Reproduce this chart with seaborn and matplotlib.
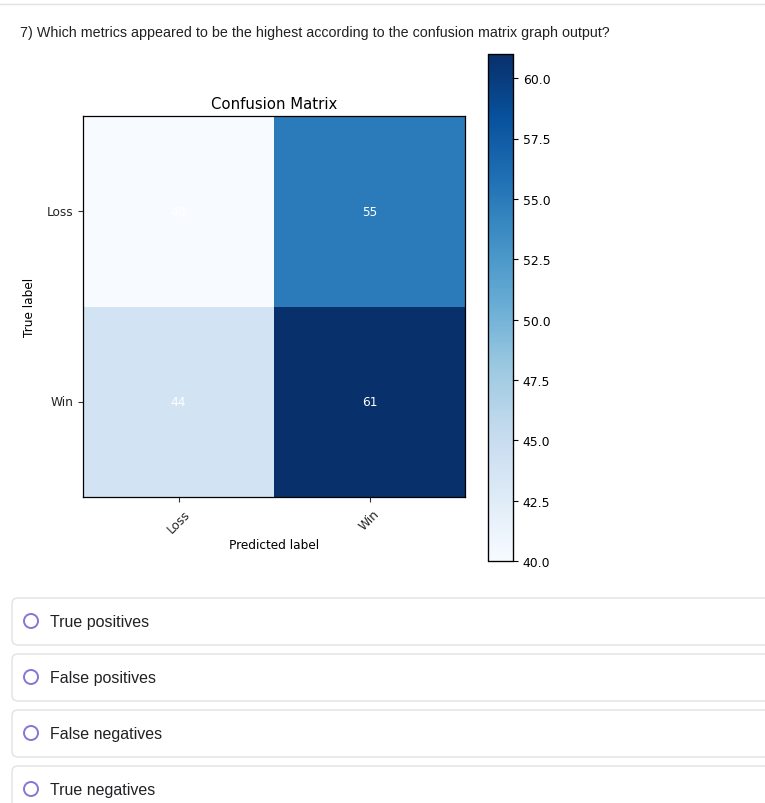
import matplotlib.pyplot as plt
import seaborn as sns
import numpy as np
from matplotlib.patches import FancyBboxPatch, Circle

# confusion matrix values (rows: true, cols: predicted)
labels = ['Loss', 'Win']
cm = np.array([[40, 55],
               [44, 61]])
vmin, vmax = 40, 61

question = '7) Which metrics appeared to be the highest according to the confusion matrix graph output?'
options = ['True positives', 'False positives', 'False negatives', 'True negatives']

W, H = 765, 804
fig = plt.figure(figsize=(W / 100, H / 100), dpi=100)

# page overlay in pixel coords
bg = fig.add_axes([0, 0, 1, 1])
bg.set_xlim(0, W)
bg.set_ylim(H, 0)
bg.axis('off')
bg.plot([0, W], [5, 5], color='#e3e3e3', lw=1)
bg.text(20, 33, question, fontsize=10.3, family='Liberation Sans', color='#202124', va='center')

for i, opt in enumerate(options):
    y0 = 599 + i * 56
    bg.add_patch(FancyBboxPatch((12, y0), W + 20, 47, boxstyle='round,pad=0,rounding_size=6',
                                fc='white', ec='#e2e2e2', lw=1))
    bg.add_patch(Circle((31, y0 + 23), 7, fc='white', ec='#8577d6', lw=1.4))
    bg.text(50, y0 + 23.5, opt, fontsize=11.5, family='Liberation Sans', color='#202124', va='center')

ax = fig.add_axes([83 / W, 1 - 498 / H, 382 / W, 381 / H])
cax = fig.add_axes([488 / W, 1 - 562 / H, 25 / W, 507 / H])

sns.heatmap(cm, ax=ax, cbar_ax=cax, cmap='Blues', vmin=vmin, vmax=vmax,
            annot=True, fmt='d', annot_kws={'color': 'white', 'fontsize': 8.7},
            xticklabels=labels, yticklabels=labels, square=False)

for s in ax.spines.values():
    s.set_visible(True)
    s.set_color('black')
    s.set_linewidth(0.9)
ax.tick_params(labelsize=8.7, length=3.5, color='#333333', labelcolor='#222222')
ax.set_xticklabels(labels, rotation=45)
ax.set_yticklabels(labels, rotation=0)
ax.set_title('Confusion Matrix', fontsize=10.7, pad=6)
ax.set_xlabel('Predicted label', fontsize=8.7, labelpad=2)
ax.set_ylabel('True label', fontsize=8.7, labelpad=8)

cax.set_yticks([40, 42.5, 45, 47.5, 50, 52.5, 55, 57.5, 60])
cax.set_yticklabels(['40.0', '42.5', '45.0', '47.5', '50.0', '52.5', '55.0', '57.5', '60.0'])
cax.tick_params(labelsize=8.9, length=3.5)
for s in cax.spines.values():
    s.set_visible(True)
cb = ax.collections[0].colorbar
cb.outline.set_visible(True)
cb.outline.set_linewidth(0.9)
cb.outline.set_edgecolor('black')

fig.savefig('out.png', dpi=100)
